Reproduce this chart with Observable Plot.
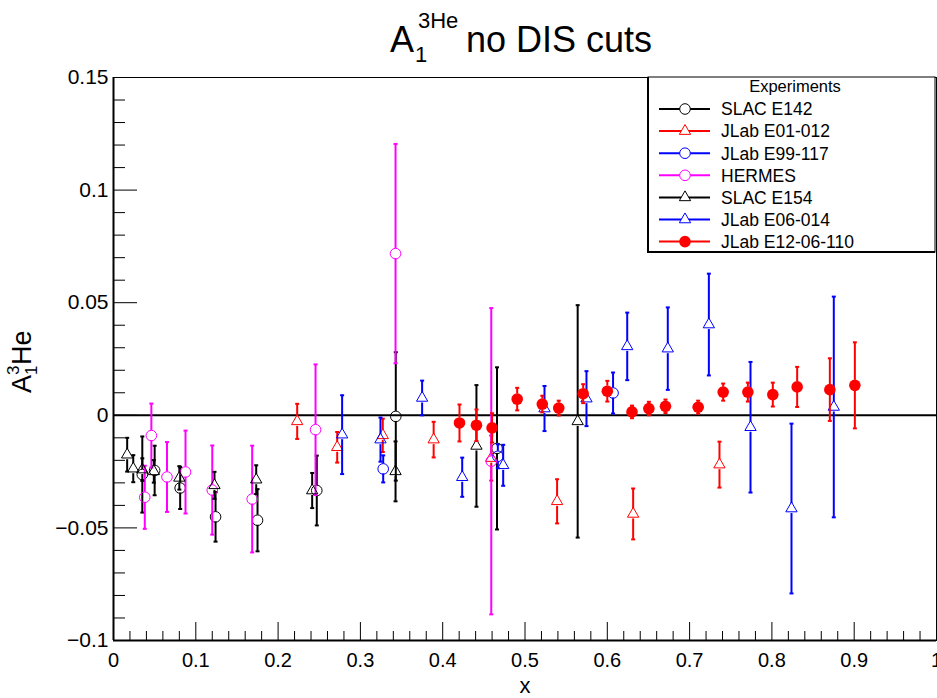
<!DOCTYPE html>
<html><head><meta charset="utf-8">
<script src="https://cdn.jsdelivr.net/npm/d3@7"></script>
<script src="https://cdn.jsdelivr.net/npm/@observablehq/plot@0.6"></script>
<style>body{margin:0;background:#fff;} #chart{width:937px;height:698px;}</style>
</head><body><div id="chart"></div>
<script>
// ---------------- data ----------------
const series = ["SLAC E142","JLab E01-012","JLab E99-117","HERMES","SLAC E154","JLab E06-014","JLab E12-06-110"];

const e142_x   = [0.035, 0.050, 0.081, 0.124, 0.175, 0.247, 0.343, 0.466];
const e142_y   = [-0.0263, -0.0245, -0.0323, -0.0451, -0.0466, -0.0334, -0.0005, -0.0147];
const e142_err = [0.0169, 0.011, 0.0093, 0.011, 0.0138, 0.0155, 0.0285, 0.036];

const e01_x   = [0.2232, 0.2718, 0.3272, 0.389, 0.459, 0.539, 0.6314, 0.7363];
const e01_y   = [-0.0027, -0.0142, -0.0089, -0.0108, -0.019, -0.0382, -0.0438, -0.0219];
const e01_err = [0.0078, 0.0068, 0.0074, 0.0079, 0.010, 0.0098, 0.0113, 0.0102];

const e99_x   = [0.3277, 0.467, 0.607];
const e99_y   = [-0.0238, -0.0182, 0.0099];
const e99_err = [0.006, 0.0053, 0.0091];

const hermes_x   = [0.038, 0.046, 0.065, 0.0875, 0.120, 0.1685, 0.2455, 0.3427, 0.459];
const hermes_y   = [-0.0364, -0.0090, -0.0274, -0.0252, -0.0332, -0.0372, -0.0064, 0.0718, -0.0204];
const hermes_err = [0.014, 0.0142, 0.0155, 0.0184, 0.0198, 0.0237, 0.029, 0.0487, 0.068];

const e154_x   = [0.0166, 0.024, 0.035, 0.049, 0.080, 0.1227, 0.1734, 0.2414, 0.3427, 0.441, 0.564];
const e154_y   = [-0.0175, -0.0237, -0.0241, -0.0249, -0.0278, -0.0311, -0.0286, -0.0334, -0.0249, -0.0136, -0.0027];
const e154_err = [0.0075, 0.006, 0.005, 0.005, 0.0052, 0.006, 0.0064, 0.0078, 0.0133, 0.027, 0.0516];

const e06_x   = [0.2778, 0.3244, 0.375, 0.4237, 0.4735, 0.5237, 0.5747, 0.6242, 0.6735, 0.7234, 0.774, 0.8238, 0.8752];
const e06_y   = [-0.0086, -0.0108, 0.0077, -0.0275, -0.0222, 0.0030, 0.0074, 0.0306, 0.0296, 0.0403, -0.0053, -0.0414, 0.0037];
const e06_err = [0.0175, 0.0098, 0.0077, 0.0087, 0.0091, 0.010, 0.0122, 0.015, 0.0183, 0.0226, 0.029, 0.0377, 0.049];

const e12_x   = [0.4204, 0.441, 0.460, 0.4905, 0.521, 0.541, 0.5707, 0.600, 0.630, 0.6505, 0.6707, 0.7104, 0.7408, 0.7708, 0.8011, 0.8307, 0.8704, 0.9008];
const e12_y   = [-0.0034, -0.0044, -0.0056, 0.0072, 0.0050, 0.0032, 0.0096, 0.0107, 0.0015, 0.0030, 0.0040, 0.0036, 0.0103, 0.0103, 0.0092, 0.0126, 0.0114, 0.0133];
const e12_err = [0.0082, 0.007, 0.0065, 0.005, 0.0037, 0.0033, 0.0042, 0.0046, 0.0028, 0.003, 0.003, 0.0029, 0.0038, 0.0042, 0.0053, 0.0089, 0.0139, 0.0191];

const xTickLabels = ["0","0.1","0.2","0.3","0.4","0.5","0.6","0.7","0.8","0.9","1"];
const yTickLabels = ["\u22120.1","\u22120.05","0","0.05","0.1","0.15"];

// ---------------- build table ----------------
const seriesData = [
  [e142_x, e142_y, e142_err],
  [e01_x, e01_y, e01_err],
  [e99_x, e99_y, e99_err],
  [hermes_x, hermes_y, hermes_err],
  [e154_x, e154_y, e154_err],
  [e06_x, e06_y, e06_err],
  [e12_x, e12_y, e12_err]
];
const rows = [];
seriesData.forEach(([xs, ys, es], k) => xs.forEach((x, i) => rows.push({series: series[k], x, y: ys[i], err: es[i]})));

// ---------------- styles ----------------
const styleOf = {
  "SLAC E142":       {color: "#000000", symbol: "circle",   filled: false},
  "JLab E01-012":    {color: "#ff0000", symbol: "triangle", filled: false},
  "JLab E99-117":    {color: "#0000ff", symbol: "circle",   filled: false},
  "HERMES":          {color: "#ff00ff", symbol: "circle",   filled: false},
  "SLAC E154":       {color: "#000000", symbol: "triangle", filled: false},
  "JLab E06-014":    {color: "#0000ff", symbol: "triangle", filled: false},
  "JLab E12-06-110": {color: "#ff0000", symbol: "circle",   filled: true}
};
const FONT = "'Liberation Sans', Arial, Helvetica, sans-serif";
const W = 937, H = 698, mL = 113, mR = 1, mT = 77, mB = 58;
const innerW = W - mL - mR, innerH = H - mT - mB;
const yDomain = [-0.1, 0.15];
const pxPerUnit = innerH / (yDomain[1] - yDomain[0]);
const GAP = 5;

const xVals = xTickLabels.map(Number);
const yVals = yTickLabels.map(s => Number(s.replace("\u2212", "-")));
const xMinor = d3.range(0, 51).map(i => i * 0.02).filter(v => !xVals.some(t => Math.abs(t - v) < 1e-9));
const yMinor = d3.range(-10, 16).map(i => i * 0.01).filter(v => !yVals.some(t => Math.abs(t - v) < 1e-9));

const capSymbol = {draw(ctx, size) { const w = Math.sqrt(size / Math.PI); ctx.moveTo(-w, 0); ctx.lineTo(w, 0); }};

const marks = [
  Plot.ruleY([0], {stroke: "black", strokeWidth: 2}),
];
for (const s of series) {
  const st = styleOf[s];
  const d = rows.filter(r => r.series === s);
  const long = d.filter(r => r.err * pxPerUnit > GAP + 0.5);
  marks.push(
    Plot.ruleX(long, {x: "x", y1: r => r.y + r.err, y2: "y", insetBottom: GAP, stroke: st.color, strokeWidth: 2}),
    Plot.ruleX(long, {x: "x", y1: "y", y2: r => r.y - r.err, insetTop: GAP, stroke: st.color, strokeWidth: 2}),
    Plot.dot(d, {x: "x", y: r => r.y + r.err, symbol: capSymbol, r: 2, stroke: st.color, strokeWidth: 2}),
    Plot.dot(d, {x: "x", y: r => r.y - r.err, symbol: capSymbol, r: 2, stroke: st.color, strokeWidth: 2}),
    st.filled
      ? Plot.dot(d, {x: "x", y: "y", symbol: "circle", r: 5.8, fill: st.color, stroke: "none"})
      : Plot.dot(d, {x: "x", y: "y", symbol: st.symbol, r: st.symbol === "triangle" ? 4.2 : 5.3, fill: "none", stroke: st.color, strokeWidth: 1})
  );
}
marks.push(
  Plot.tickX(xMinor, {x: d => d, insetTop: innerH - 9, stroke: "black", strokeWidth: 1}),
  Plot.tickX(xVals, {x: d => d, insetTop: innerH - 18, stroke: "black", strokeWidth: 1}),
  Plot.tickY(yMinor, {y: d => d, insetRight: innerW - 12, stroke: "black", strokeWidth: 1}),
  Plot.tickY(yVals, {y: d => d, insetRight: innerW - 24, stroke: "black", strokeWidth: 1}),
  Plot.frame({stroke: "black", strokeWidth: 1}),
  Plot.ruleX([0], {stroke: "black", strokeWidth: 2}),
  Plot.ruleY([yDomain[0]], {stroke: "black", strokeWidth: 2}),
  Plot.axisX(xVals, {tickSize: 0, tickPadding: 12, fontSize: 20, label: null, tickFormat: (d, i) => xTickLabels[i]}),
  Plot.axisY(yVals, {tickSize: 0, tickPadding: 5, fontSize: 21, label: null, tickFormat: (d, i) => yTickLabels[i]})
);

const chart = Plot.plot({
  width: W, height: H,
  marginLeft: mL, marginRight: mR, marginTop: mT, marginBottom: mB,
  x: {domain: [0, 1]},
  y: {domain: yDomain},
  style: {fontFamily: FONT, background: "white", color: "black", overflow: "visible"},
  marks
});
document.getElementById("chart").appendChild(chart);

// ---------------- texts & legend ----------------
const svg = d3.select(chart);
const g = svg.append("g").attr("font-family", FONT).attr("fill", "black").attr("text-anchor", "start");
// title
g.append("text").attr("x", 390).attr("y", 52).attr("font-size", 36).text("A");
g.append("text").attr("x", 415).attr("y", 62).attr("font-size", 22).text("1");
g.append("text").attr("x", 418).attr("y", 28).attr("font-size", 22).text("3He");
g.append("text").attr("x", 466).attr("y", 52).attr("font-size", 36).text("no DIS cuts");
// x label
g.append("text").attr("x", 525).attr("y", 693).attr("font-size", 22).attr("text-anchor", "middle").text("x");
// y label
const yl = g.append("g").attr("transform", "translate(31,393) rotate(-90)");
yl.append("text").attr("x", 0).attr("y", 0).attr("font-size", 27).text("A");
yl.append("text").attr("x", 18).attr("y", 6).attr("font-size", 17).text("1");
yl.append("text").attr("x", 18).attr("y", -12).attr("font-size", 17).text("3");
yl.append("text").attr("x", 28).attr("y", 0).attr("font-size", 27).text("He");

// legend
const lg = svg.append("g").attr("font-family", FONT).attr("text-anchor", "start");
lg.append("rect").attr("x", 648).attr("y", 77).attr("width", 287).attr("height", 175)
  .attr("fill", "white").attr("stroke", "black").attr("stroke-width", 1);
lg.append("line").attr("x1", 648).attr("x2", 648).attr("y1", 77).attr("y2", 253).attr("stroke", "black").attr("stroke-width", 2);
lg.append("line").attr("x1", 647).attr("x2", 935).attr("y1", 252).attr("y2", 252).attr("stroke", "black").attr("stroke-width", 2);
lg.append("text").attr("x", 795).attr("y", 92).attr("font-size", 16.5).attr("text-anchor", "middle").text("Experiments");
series.forEach((s, i) => {
  const st = styleOf[s];
  const cy = 109 + i * 22.1;
  lg.append("line").attr("x1", 659).attr("x2", 710).attr("y1", cy).attr("y2", cy).attr("stroke", st.color).attr("stroke-width", 2);
  const r = st.filled ? 5.8 : (st.symbol === "triangle" ? 4.2 : 5.3);
  const sym = d3.symbol(st.symbol === "triangle" ? d3.symbolTriangle : d3.symbolCircle, r * r * Math.PI)();
  const p = lg.append("path").attr("d", sym).attr("transform", `translate(685,${cy})`);
  if (st.filled) p.attr("fill", st.color).attr("stroke", "none");
  else p.attr("fill", "white").attr("stroke", st.color).attr("stroke-width", 1);
  lg.append("text").attr("x", 721).attr("y", cy + 6.3).attr("font-size", 17.5).text(s);
});
</script>
</body></html>
